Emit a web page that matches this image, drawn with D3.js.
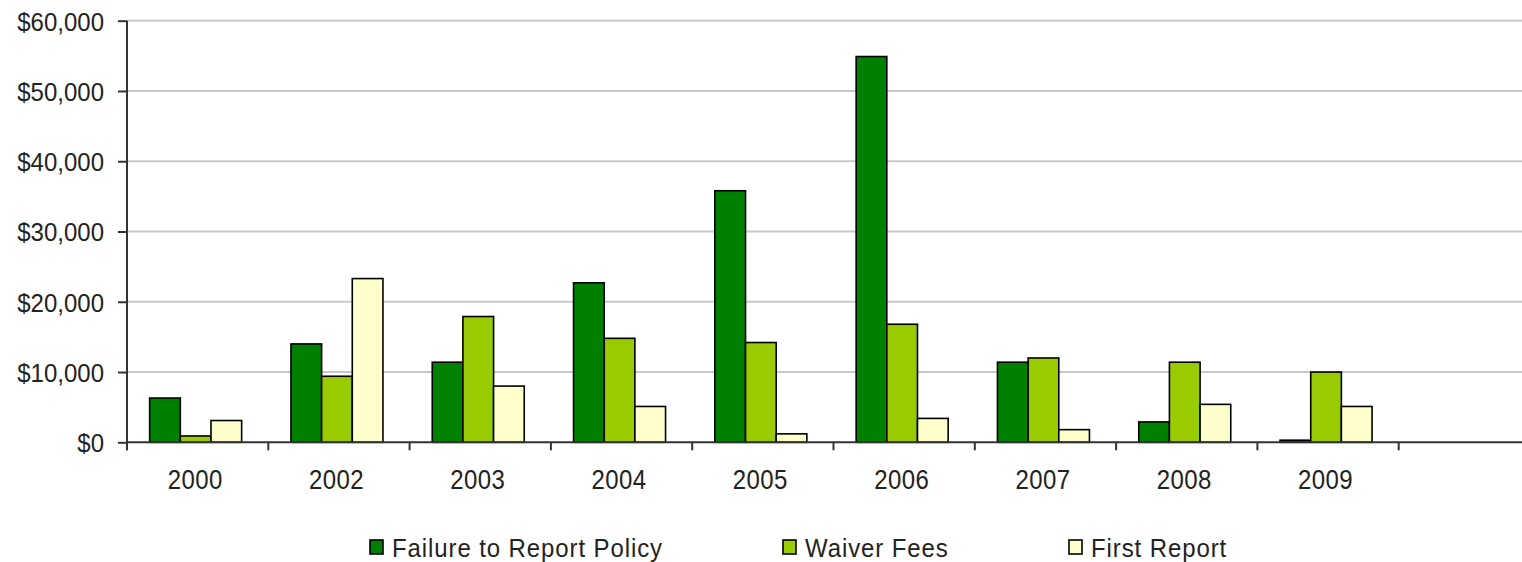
<!DOCTYPE html>
<html>
<head>
<meta charset="utf-8">
<script src="https://cdn.jsdelivr.net/npm/d3@7"></script>
<style>
  html, body { margin: 0; padding: 0; background: #fff; }
  svg { display: block; }
  text { font-family: "Liberation Sans", Arial, sans-serif; fill: #222; }
</style>
</head>
<body>
<svg id="chart" width="1522" height="562"></svg>
<script>
// Yearly amounts, one array per series; the last category is an empty slot
const categories = ["2000", "2002", "2003", "2004", "2005", "2006", "2007", "2008", "2009", ""];
const seriesNames = ["Failure to Report Policy", "Waiver Fees", "First Report"];
const failureToReport = [6300, 14000, 11400, 22700, 35800, 54900, 11400, 2900, 300, null];
const waiverFees      = [900, 9400, 17900, 14800, 14200, 16800, 12000, 11400, 10000, null];
const firstReport     = [3100, 23300, 8000, 5100, 1200, 3400, 1800, 5400, 5100, null];
const yTicks = [0, 10000, 20000, 30000, 40000, 50000, 60000];
const colors = ["#008000", "#99CC00", "#FFFFCC"];

const values = [failureToReport, waiverFees, firstReport];

const svg = d3.select("#chart");
const plotLeft = 127, plotTop = 20.7, plotBottom = 442.3, plotRight = 1522;
const bandW = 141.3;

const x0 = d3.scaleBand().domain(categories).range([plotLeft, plotLeft + bandW * categories.length]).padding(0);
const groupW = 92;
const x1 = d3.scaleBand().domain(seriesNames).range([0, groupW]).padding(0);
const y = d3.scaleLinear().domain([0, 60000]).range([plotBottom, plotTop]);

// horizontal gridlines
svg.append("g").selectAll("line").data(yTicks.filter(d => d > 0)).join("line")
  .attr("x1", plotLeft).attr("x2", plotRight)
  .attr("y1", d => y(d)).attr("y2", d => y(d))
  .attr("stroke", "#c8c8c8").attr("stroke-width", 2);

// bars
const groups = svg.append("g").selectAll("g").data(categories).join("g")
  .attr("transform", c => `translate(${x0(c) + (x0.bandwidth() - groupW) / 2 - 2},0)`);

groups.selectAll("rect")
  .data((c, i) => seriesNames.map((s, k) => ({ s, k, v: values[k][i] })).filter(d => d.v != null))
  .join("rect")
  .attr("x", d => x1(d.s))
  .attr("width", x1.bandwidth())
  .attr("y", d => y(d.v))
  .attr("height", d => y(0) - y(d.v))
  .attr("fill", d => colors[d.k])
  .attr("stroke", "#000")
  .attr("stroke-width", 1.6);

// y axis ticks and labels
const yAxis = d3.axisLeft(y).tickValues(yTicks).tickSize(9).tickPadding(14)
  .tickFormat(d => "$" + d3.format(",")(d));
const gy = svg.append("g").attr("transform", `translate(${plotLeft},0)`).call(yAxis);
gy.select(".domain").remove();
gy.selectAll(".tick line").attr("stroke", "#333").attr("stroke-width", 2);
gy.selectAll(".tick text")
  .attr("font-size", 24).attr("fill", "#222")
  .attr("font-family", "Liberation Sans, Arial, sans-serif")
  .attr("dy", null).attr("dominant-baseline", "central")
  .attr("transform", "scale(1,1.08)");

svg.append("line")
  .attr("x1", plotLeft).attr("x2", plotLeft)
  .attr("y1", plotTop).attr("y2", plotBottom + 8)
  .attr("stroke", "#333").attr("stroke-width", 2);

// x axis line and category separators
svg.append("line")
  .attr("x1", plotLeft).attr("x2", plotRight)
  .attr("y1", plotBottom).attr("y2", plotBottom)
  .attr("stroke", "#333").attr("stroke-width", 2);
svg.append("g").selectAll("line").data(categories).join("line")
  .attr("x1", c => x0(c)).attr("x2", c => x0(c))
  .attr("y1", plotBottom).attr("y2", plotBottom + 8)
  .attr("stroke", "#333").attr("stroke-width", 2);

// category labels
svg.append("g").selectAll("g").data(categories).join("g")
  .attr("transform", c => `translate(${x0(c) + x0.bandwidth() / 2 - 2.5},489) scale(1,1.18)`)
  .append("text")
  .attr("text-anchor", "middle")
  .attr("font-size", 24)
  .attr("letter-spacing", 0.4)
  .text(c => c);

// legend
const legendX = [370, 783, 1069];
const leg = svg.append("g").selectAll("g").data(seriesNames).join("g")
  .attr("transform", (s, i) => `translate(${legendX[i]},0)`);
leg.append("rect")
  .attr("x", 0).attr("y", 540).attr("width", 13).attr("height", 14)
  .attr("fill", (s, i) => colors[i]).attr("stroke", "#000").attr("stroke-width", 1.6);
leg.append("g").attr("transform", "translate(22,557) scale(1,1.1)")
  .append("text")
  .attr("font-size", 24)
  .attr("letter-spacing", 0.9)
  .text(s => s);
</script>
</body>
</html>
